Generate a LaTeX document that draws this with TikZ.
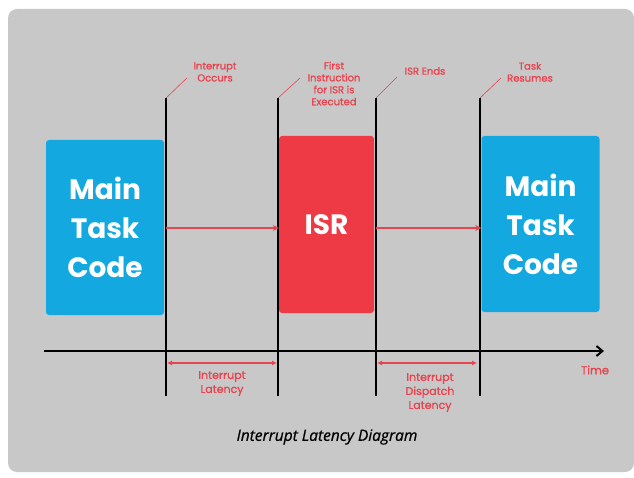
\documentclass[tikz,border=0pt]{standalone}
\usepackage{fontspec}
\setmainfont{Poppins}
\newfontfamily\lblfont{Poppins}[FakeBold=1.2]
\newfontfamily\capfont{Open Sans}[FakeBold=0.8]
\usetikzlibrary{arrows.meta}
\definecolor{panel}{HTML}{C8C8C8}
\definecolor{tblue}{HTML}{13A9E0}
\definecolor{tred}{HTML}{EE3A45}
\definecolor{lred}{HTML}{E8444F}
\tikzset{
  taskbox/.style={fill=tblue, rounded corners=3pt, minimum width=118pt, text width=110pt, align=center, text=white, font=\fontsize{28}{39}\selectfont\bfseries, inner sep=0pt},
  isrbox/.style={fill=tred, rounded corners=3pt, minimum width=95pt, minimum height=177pt, text=white, font=\fontsize{28}{39}\selectfont\bfseries, inner sep=0pt},
  vline/.style={line width=1.4pt, black},
  lead/.style={line width=0.6pt, lred},
  lbl/.style={text=lred, align=center, font=\lblfont\fontsize{10}{12}\selectfont, inner sep=0pt},
  flow/.style={line width=1.3pt, lred, -{Stealth[length=6pt,width=6pt]}},
  span/.style={line width=1.6pt, lred, {Latex[length=5pt,width=5pt]}-{Latex[length=5pt,width=5pt]}},
}
\begin{document}
\begin{tikzpicture}[x=1pt,y=-1pt]
\useasboundingbox (0,0) rectangle (634,478);
\fill[white] (0,0) rectangle (634,478);
\fill[panel, rounded corners=9pt] (8,9) rectangle (634,472);

% boxes
\node[taskbox, minimum height=175pt] (main1) at (105,227.5) {Main\\Task\\Code};
\node[isrbox] (isr) at (326.5,224.5) {ISR};
\node[taskbox, minimum height=176pt] (main2) at (540.5,224) {Main\\Task\\Code};

% vertical lines
\coordinate (t1a) at (166,98); \coordinate (t1b) at (166,396);
\coordinate (t2a) at (278,98); \coordinate (t2b) at (278,396);
\coordinate (t3a) at (376,98); \coordinate (t3b) at (376,396);
\coordinate (t4a) at (480,98); \coordinate (t4b) at (480,396);
\draw[vline] (t1a) -- (t1b);
\draw[vline] (t2a) -- (t2b);
\draw[vline] (t3a) -- (t3b);
\draw[vline] (t4a) -- (t4b);

% time axis
\coordinate (ax0) at (44,351);
\coordinate (ax1) at (604,351);
\draw[line width=2.4pt, -{Straight Barb[length=6pt,width=10pt,line width=2pt]}] (ax0) -- (ax1);
\node[lbl, font=\lblfont\fontsize{11.5}{13}\selectfont] (time) at (595,370) {Time};

% leaders and labels
\node[lbl] (l1) at (215,72) {Interrupt\\Occurs};
\coordinate (e1) at (187,78);
\draw[lead] (t1a) -- (e1);
\node[lbl] (l2) at (334,83.5) {First\\Instruction\\for ISR is\\Executed};
\coordinate (e2) at (300,78);
\draw[lead] (t2a) -- (e2);
\node[lbl] (l3) at (425,71) {ISR Ends};
\coordinate (e3) at (397,77);
\draw[lead] (t3a) -- (e3);
\node[lbl] (l4) at (530,72) {Task\\Resumes};
\coordinate (e4) at (501,78);
\draw[lead] (t4a) -- (e4);

% flow arrows
\coordinate (f1) at (166,228);
\coordinate (f3) at (376,228);
\draw[flow] (f1) -- (isr.west |- f1);
\draw[flow] (f3) -- (main2.west |- f3);

% spans
\coordinate (s1a) at (167,363); \coordinate (s1b) at (277,363);
\coordinate (s2a) at (377,363); \coordinate (s2b) at (477,363);
\draw[span] (s1a) -- (s1b);
\draw[span] (s2a) -- (s2b);
\node[lbl, font=\lblfont\fontsize{11}{14}\selectfont] (lat1) at (222,383.5) {Interrupt\\Latency};
\node[lbl, font=\lblfont\fontsize{11}{14}\selectfont] (lat2) at (430,392.5) {Interrupt\\Dispatch\\Latency};

% caption
\node[font=\capfont\fontsize{15.5}{17}\selectfont\itshape, inner sep=0pt] (cap) at (327,437) {Interrupt Latency Diagram};
\end{tikzpicture}
\end{document}
